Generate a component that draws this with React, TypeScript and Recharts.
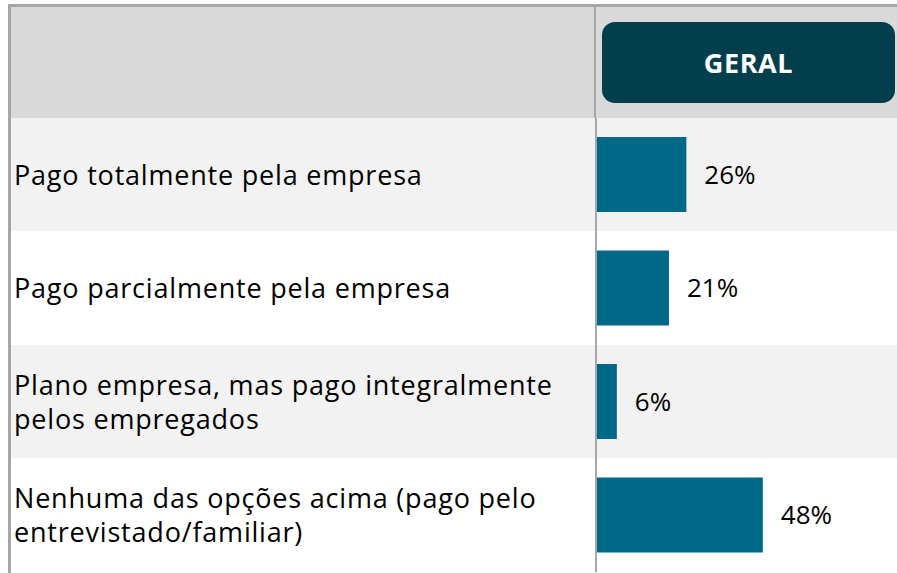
import {
  BarChart,
  Bar,
  XAxis,
  YAxis,
  LabelList,
  ReferenceArea,
  ReferenceLine,
} from "recharts";

const categories = [
  "Pago totalmente pela empresa",
  "Pago parcialmente pela empresa",
  "Plano empresa, mas pago integralmente\npelos empregados",
  "Nenhuma das opções acima (pago pelo\nentrevistado/familiar)",
];
const geral = [26, 21, 6, 48];
const columnTitle = "GERAL";
const rowFills = ["#f2f2f2", "#ffffff"];

// value axis spans the label column too, so 0 sits on the separator line
const valueDomain = [-168.3, 86.6];

const data = categories.map((name, i) => ({ name, geral: geral[i] }));

const FONT = "'Open Sans', sans-serif";
const BORDER = "#a6a6a6";

function CategoryTick(props: any) {
  const { x, y, payload } = props;
  const lines = String(payload.value).split("\n");
  return (
    <text
      x={x}
      y={y}
      fill="#000"
      fontSize={27}
      fontFamily={FONT}
      letterSpacing={0.8}
      textAnchor="start"
    >
      {lines.map((line, i) => (
        <tspan key={i} x={x} y={y + (i - (lines.length - 1) / 2) * 34 + 10}>
          {line}
        </tspan>
      ))}
    </text>
  );
}

export default function App() {
  return (
    <div
      style={{
        position: "absolute",
        left: 0,
        top: 0,
        width: 897,
        height: 573,
        background: "#fff",
        overflow: "hidden",
      }}
    >
      {/* header band */}
      <div
        style={{
          position: "absolute",
          left: 8,
          top: 4,
          width: 889,
          height: 114,
          boxSizing: "border-box",
          background: "#d9d9d9",
          borderTop: `3px solid ${BORDER}`,
        }}
      />
      <div
        style={{
          position: "absolute",
          left: 8,
          top: 4,
          width: 3,
          height: 569,
          background: BORDER,
        }}
      />
      <div
        style={{
          position: "absolute",
          left: 594,
          top: 7,
          width: 2,
          height: 111,
          background: BORDER,
        }}
      />
      <div
        style={{
          position: "absolute",
          left: 602,
          top: 22,
          width: 293,
          height: 81,
          borderRadius: 13,
          background: "#023e4c",
          color: "#fff",
          fontFamily: FONT,
          fontWeight: 700,
          fontSize: 27,
          letterSpacing: 0.6,
          display: "flex",
          alignItems: "center",
          justifyContent: "center",
        }}
      >
        {columnTitle}
      </div>

      <div style={{ position: "absolute", left: 0, top: 0 }}>
        <BarChart
          width={897}
          height={573}
          data={data}
          layout="vertical"
          margin={{ top: 118, right: 0, bottom: 1, left: 11 }}
        >
          <XAxis
            type="number"
            domain={valueDomain}
            allowDataOverflow
            hide
          />
          {categories.map((c, i) => (
            <ReferenceArea
              key={c}
              y1={c}
              y2={c}
              fill={rowFills[i % 2]}
              fillOpacity={1}
              stroke="none"
            />
          ))}
          <YAxis
            type="category"
            dataKey="name"
            mirror
            axisLine={false}
            tickLine={false}
            tickSize={0}
            tickMargin={3}
            interval={0}
            tick={(p: any) => <CategoryTick {...p} />}
          />
          <ReferenceLine x={0} stroke={BORDER} strokeWidth={2} />
          <Bar
            dataKey="geral"
            fill="#006987"
            barSize={75}
            isAnimationActive={false}
          >
            <LabelList
              dataKey="geral"
              position="right"
              offset={18}
              fill="#000"
              fontSize={26}
              fontFamily={FONT}
              formatter={(v: any) => `${v}%`}
            />
          </Bar>
        </BarChart>
      </div>
    </div>
  );
}
